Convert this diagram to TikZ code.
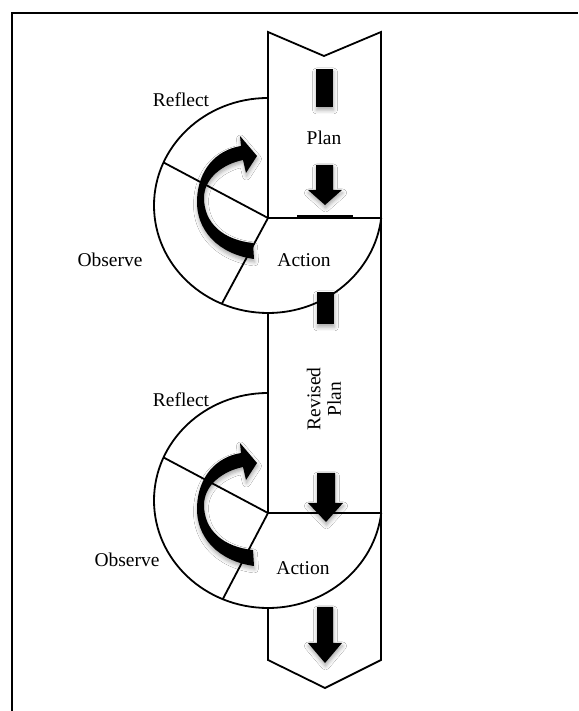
\documentclass[tikz,border=0pt]{standalone}
\usepackage{fontspec}
\setmainfont{Liberation Serif}
\usetikzlibrary{shadows.blur}
\begin{document}
\begin{tikzpicture}[x=1pt,y=1pt,
  outline/.style={line width=1.8pt, line join=miter},
  lbl/.style={font=\fontsize{19.5}{20.5}\selectfont, inner sep=0pt},
  blk/.style={fill=black, blur shadow={shadow xshift=0.5pt, shadow yshift=-3pt, shadow blur radius=4pt, shadow opacity=35}},
  curvarr/.pic={
    \fill[blk] (-14,-41) .. controls (-50,-36) and (-72,-12) .. (-71,18)
      .. controls (-70,48) and (-52,68) .. (-27,72) -- (-28,82) -- (-11,62)
      -- (-22,45) -- (-25,58) .. controls (-45,54) and (-64,40) .. (-64,20)
      .. controls (-64,-5) and (-45,-22) .. (-15,-25) -- cycle;
  }
]
\useasboundingbox (0,0) rectangle (578,711);
\fill[white] (0,0) rectangle (578,711);
% frame
\draw[line width=2.5pt] (12,0) -- (12,698) -- (578,698);

% cycle 1
\draw[outline] (268,613) arc[start angle=90, end angle=353.3, x radius=114, y radius=107.5];
\draw[outline] (268,493) -- (381,493);
\begin{scope}
  \clip (268,505.5) ellipse [x radius=114, y radius=107.5];
  \draw[outline] (268,493) -- ++(152:150);
  \draw[outline] (268,493) -- ++(241.7:150);
\end{scope}

% cycle 2
\draw[outline] (268,318) arc[start angle=90, end angle=353.3, x radius=114, y radius=107.5];
\draw[outline] (268,198) -- (381,198);
\begin{scope}
  \clip (268,210.5) ellipse [x radius=114, y radius=107.5];
  \draw[outline] (268,198) -- ++(152:150);
  \draw[outline] (268,198) -- ++(242.3:150);
\end{scope}

% band
\draw[outline] (268,493) -- (268,679) -- (324,655) -- (381,679) -- (381,51) -- (325,23) -- (268,51) -- (268,103);
\draw[outline] (268,398) -- (268,198);
\draw[line width=4pt] (297,493.5) -- (353,493.5);

% block arrows
\fill[blk] (316,642) rectangle (333,604);
\fill[blk] (316,546) -- (333,546) -- (333,521) -- (342,521) -- (325,506) -- (308,521) -- (316,521) -- cycle;
\fill[blk] (317,419) rectangle (334,387);
\fill[blk] (317,238) -- (335,238) -- (335,208) -- (343,208) -- (326,189) -- (308,208) -- (317,208) -- cycle;
\fill[blk] (317,104) -- (333,104) -- (333,68) -- (342,68) -- (325,48) -- (308,68) -- (317,68) -- cycle;

% curved arrows
\pic at (268,493) {curvarr};
\pic at (268,186) {curvarr};

% labels
\node[lbl] (reflect1) at (181,611) {Reflect};
\node[lbl] (observe1) at (110,451) {Observe};
\node[lbl] (action1) at (304,451) {Action};
\node[lbl] (plan1) at (324,573) {Plan};
\node[lbl, rotate=90, align=center] (revised) at (324,312) {Revised\\Plan};
\node[lbl] (reflect2) at (181,311) {Reflect};
\node[lbl] (observe2) at (127,151) {Observe};
\node[lbl] (action2) at (303,143) {Action};
\end{tikzpicture}
\end{document}
